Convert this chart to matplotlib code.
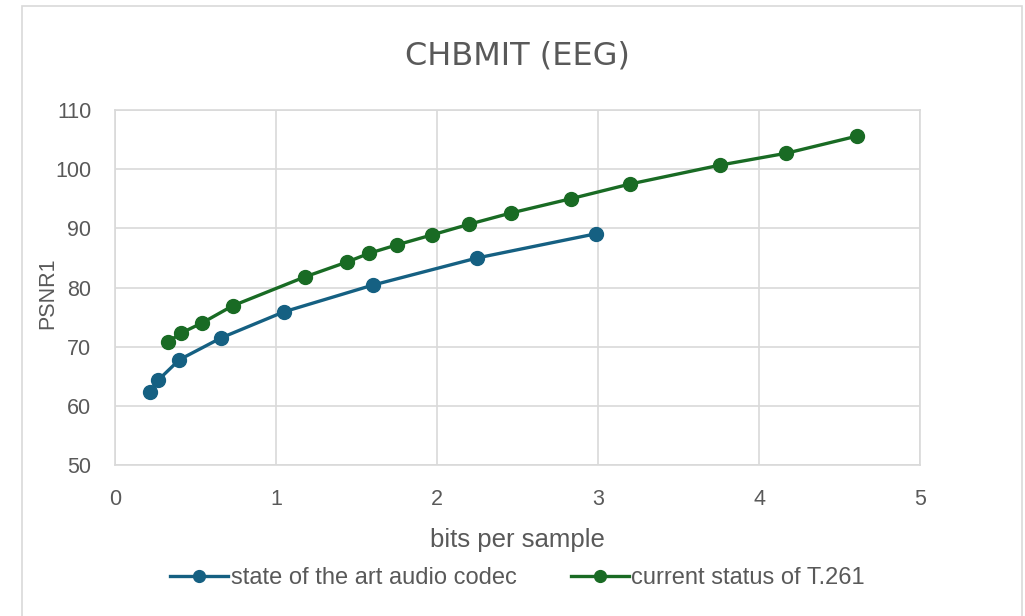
import matplotlib.pyplot as plt
from matplotlib.patches import Rectangle

# state of the art audio codec
sota_bps = [0.22, 0.27, 0.40, 0.66, 1.05, 1.60, 2.25, 2.99]
sota_psnr = [62.4, 64.4, 67.8, 71.5, 75.9, 80.4, 85.0, 89.1]

# current status of T.261
t261_bps = [0.33, 0.41, 0.54, 0.73, 1.18, 1.44, 1.58, 1.75, 1.97, 2.20,
            2.46, 2.83, 3.20, 3.76, 4.17, 4.61]
t261_psnr = [70.8, 72.3, 74.0, 76.9, 81.8, 84.3, 85.8, 87.2, 88.9, 90.7,
             92.6, 95.0, 97.5, 100.7, 102.7, 105.6]

x_ticks = [0, 1, 2, 3, 4, 5]
y_ticks = [50, 60, 70, 80, 90, 100, 110]

txt = '#595959'
grid = '#d9d9d9'
plt.rcParams['font.family'] = ['Liberation Sans', 'DejaVu Sans']

fig = plt.figure(figsize=(10.25, 6.16), dpi=100)
ax = fig.add_axes([0.1122, 0.2451, 0.7854, 0.5763])

# рамка диаграммы как в Excel
fig.patches.append(Rectangle((22 / 1025, -0.05), 1000 / 1025, 1.05 - 6 / 616,
                             transform=fig.transFigure, fill=False,
                             edgecolor=grid, linewidth=1.2))

ax.plot(sota_bps, sota_psnr, color='#156082', lw=2.4, marker='o', ms=10,
        label='state of the art audio codec', zorder=3)
ax.plot(t261_bps, t261_psnr, color='#196B24', lw=2.4, marker='o', ms=10,
        label='current status of T.261', zorder=3)

ax.set_xlim(0, 5)
ax.set_ylim(50, 110)
ax.set_xticks(x_ticks)
ax.set_yticks(y_ticks)
ax.grid(True, color=grid, lw=1.2)
ax.set_axisbelow(True)
for s in ax.spines.values():
    s.set_color(grid)
    s.set_linewidth(1.2)
ax.tick_params(length=0, labelsize=15.5, labelcolor=txt)
ax.tick_params(axis='y', pad=17)
ax.tick_params(axis='x', pad=17)

ax.set_title('CHBMIT (EEG)', fontsize=23, color=txt, pad=33,
             family=['DejaVu Sans'])
ax.set_xlabel('bits per sample', fontsize=18.5, color=txt, labelpad=13)
ax.set_ylabel('PSNR1', fontsize=15.5, color=txt)
ax.yaxis.set_label_coords(-0.07, 0.4845)

ax.legend(loc='center', bbox_to_anchor=(0.5, -0.318), ncol=2, frameon=False,
          fontsize=17, labelcolor=txt, handlelength=2.45, handletextpad=0.1,
          columnspacing=2.3, markerscale=0.85)

fig.savefig('out.png', dpi=100)
